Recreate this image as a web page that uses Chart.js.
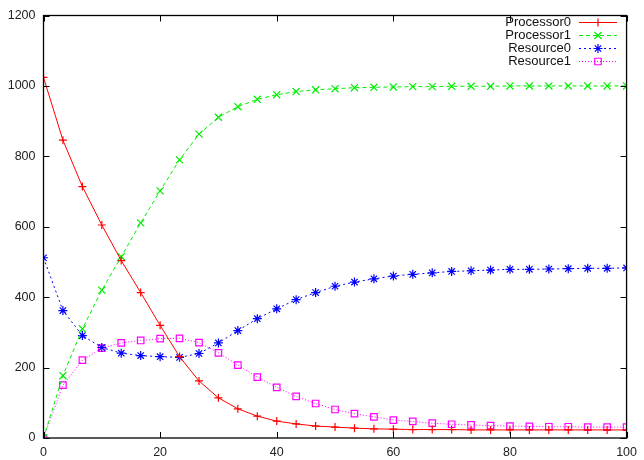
<!DOCTYPE html>
<html>
<head>
<meta charset="utf-8">
<script src="https://cdn.jsdelivr.net/npm/chart.js@4/dist/chart.umd.min.js"></script>
<style>
html,body{margin:0;padding:0;background:#fff;}
#c{display:block;}
</style>
</head>
<body>
<canvas id="c" width="644" height="460"></canvas>
<script>
const xs = [0, 3.33, 6.67, 10, 13.33, 16.67, 20, 23.33, 26.67, 30, 33.33, 36.67, 40, 43.33, 46.67, 50,
            53.33, 56.67, 60, 63.33, 66.67, 70, 73.33, 76.67, 80, 83.33, 86.67, 90, 93.33, 96.67, 100];
const processor0 = [1024, 846, 714, 605, 504, 413, 320, 231, 162, 114, 83, 62, 48, 40, 34, 31,
                    28, 26, 25, 24, 24, 24, 23, 23, 23, 23, 23, 23, 23, 23, 23];
const processor1 = [0, 177, 310, 420, 515, 611, 702, 790, 863, 911, 941, 962, 975, 984, 989, 992,
                    995, 996, 997, 998, 998, 999, 999, 999, 1000, 1000, 1000, 1000, 1000, 1000, 1000];
const resource0 = [512, 362, 291, 257, 241, 234, 231, 229, 240, 270, 305, 339, 367, 393, 413, 431,
                   443, 452, 460, 465, 469, 473, 475, 477, 479, 479, 480, 481, 482, 482, 483];
const resource1 = [0, 150, 221, 255, 270, 277, 282, 283, 271, 242, 207, 173, 144, 118, 98, 81,
                   69, 60, 51, 47, 42, 39, 37, 35, 34, 33, 32, 32, 31, 31, 31];
const seriesNames = ["Processor0", "Processor1", "Resource0", "Resource1"];
const xTicks = [0, 20, 40, 60, 80, 100];
const yTicks = [0, 200, 400, 600, 800, 1000, 1200];

const FONT = "'Liberation Sans', Arial, Helvetica, sans-serif";

function pts(arr){ return xs.map((x,i)=>({x:x, y:arr[i]})); }

const styles = [
  {color:'#ff0000', dash:[], point:'cross', radius:4},
  {color:'#00ee00', dash:[4,3], point:'crossRot', radius:5},
  {color:'#0000ff', dash:[2,3], point:'star', radius:4.5},
  {color:'#ff00ff', dash:[1,2], point:'rect', radius:4.6}
];
const values = [processor0, processor1, resource0, resource1];

const datasets = values.map((v,i)=>({
  label: seriesNames[i],
  data: pts(v),
  borderColor: styles[i].color,
  backgroundColor: 'rgba(0,0,0,0)',
  borderWidth: 1,
  borderDash: styles[i].dash,
  pointStyle: styles[i].point,
  pointRadius: styles[i].radius,
  pointBorderColor: styles[i].color,
  pointBackgroundColor: 'rgba(0,0,0,0)',
  pointBorderWidth: 1.2,
  tension: 0,
  fill: false
}));

const framePlugin = {
  id: 'frame',
  afterDraw(chart){
    const ctx = chart.ctx;
    const a = chart.chartArea;
    const xs_ = chart.scales.x, ys_ = chart.scales.y;
    ctx.save();
    ctx.strokeStyle = '#000';
    ctx.lineWidth = 1.3;
    ctx.setLineDash([]);
    ctx.strokeRect(a.left, a.top, a.right - a.left, a.bottom - a.top);
    ctx.lineWidth = 1;
    const L = 6;
    ctx.beginPath();
    xTicks.forEach(t=>{
      const px = Math.round(xs_.getPixelForValue(t)) + 0.5;
      ctx.moveTo(px, a.bottom); ctx.lineTo(px, a.bottom - L);
      ctx.moveTo(px, a.top); ctx.lineTo(px, a.top + L);
    });
    yTicks.forEach(t=>{
      const py = Math.round(ys_.getPixelForValue(t)) + 0.5;
      ctx.moveTo(a.left, py); ctx.lineTo(a.left + L, py);
      ctx.moveTo(a.right, py); ctx.lineTo(a.right - L, py);
    });
    ctx.stroke();

    // legend
    const textRight = 571, lineL = 579, lineR = 617, markX = 598;
    const top = 22, step = 13;
    ctx.font = '13px ' + FONT;
    ctx.textAlign = 'right';
    ctx.textBaseline = 'middle';
    chart.data.datasets.forEach((ds,i)=>{
      const y = top + i*step;
      ctx.fillStyle = '#111';
      ctx.fillText(ds.label, textRight, y);
      ctx.strokeStyle = ds.borderColor;
      ctx.lineWidth = 1;
      ctx.setLineDash(ds.borderDash);
      ctx.beginPath();
      ctx.moveTo(lineL, y + 0.5); ctx.lineTo(lineR, y + 0.5);
      ctx.stroke();
      ctx.setLineDash([]);
      ctx.lineWidth = ds.pointBorderWidth;
      ctx.fillStyle = 'rgba(0,0,0,0)';
      Chart.helpers.drawPoint(ctx, {pointStyle: ds.pointStyle, radius: ds.pointRadius, rotation: 0, borderWidth: ds.pointBorderWidth}, markX, y + 0.5);
    });
    ctx.restore();
  }
};

new Chart(document.getElementById('c'), {
  type: 'line',
  data: { datasets: datasets },
  options: {
    responsive: false,
    animation: false,
    devicePixelRatio: 1,
    layout: { padding: { top: 9.5, right: 13, left: 0, bottom: 0 } },
    plugins: { legend: { display: false }, tooltip: { enabled: false } },
    scales: {
      x: {
        type: 'linear', min: 0, max: 100,
        afterBuildTicks(scale){ scale.ticks = xTicks.map(v=>({value:v})); },
        afterFit(scale){ scale.height = 22; },
        grid: { display: false, drawTicks: false },
        border: { display: false },
        ticks: { padding: 7, color: '#222', font: { family: FONT, size: 12.5 }, maxRotation: 0, autoSkip: false,
                 callback: v => String(v) }
      },
      y: {
        type: 'linear', min: 0, max: 1200,
        afterBuildTicks(scale){ scale.ticks = yTicks.map(v=>({value:v})); },
        afterFit(scale){ scale.width = 43.5; },
        grid: { display: false, drawTicks: false },
        border: { display: false },
        ticks: { padding: 8, color: '#222', font: { family: FONT, size: 12.5 },
                 callback: v => String(v) }
      }
    }
  },
  plugins: [framePlugin]
});
</script>
</body>
</html>
